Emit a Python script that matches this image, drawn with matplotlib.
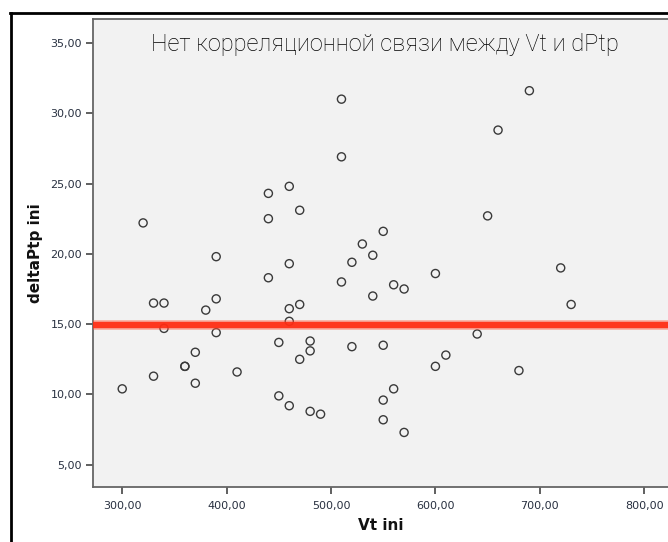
import matplotlib
matplotlib.use("Agg")
import matplotlib.pyplot as plt
from matplotlib.lines import Line2D
from matplotlib.ticker import FuncFormatter

# данные: Vt ini / deltaPtp ini
vt = [300, 320, 330, 330, 340, 340, 360, 360, 370, 370, 380, 390, 390, 390, 410,
      440, 440, 440, 450, 450, 460, 460, 460, 460, 460, 470, 470, 470, 480, 480,
      480, 490, 510, 510, 510, 520, 520, 530, 540, 540, 550, 550, 550, 550, 560,
      560, 570, 570, 600, 600, 610, 640, 650, 660, 680, 690, 720, 730]
dptp = [10.4, 22.2, 16.5, 11.3, 16.5, 14.7, 12.0, 12.0, 13.0, 10.8, 16.0, 19.8, 16.8, 14.4, 11.6,
        24.3, 22.5, 18.3, 13.7, 9.9, 24.8, 19.3, 16.1, 15.2, 9.2, 23.1, 16.4, 12.5, 13.8, 13.1,
        8.8, 8.6, 31.0, 26.9, 18.0, 19.4, 13.4, 20.7, 19.9, 17.0, 21.6, 13.5, 9.6, 8.2, 17.8,
        10.4, 17.5, 7.3, 18.6, 12.0, 12.8, 14.3, 22.7, 28.8, 11.7, 31.6, 19.0, 16.4]
mean_line = 14.95
y_ticks = [5, 10, 15, 20, 25, 30, 35]
x_ticks = [300, 400, 500, 600, 700, 800]
title = "Нет корреляционной связи между Vt и dPtp"

fig = plt.figure(figsize=(6.68, 5.42), dpi=100)
ax = fig.add_axes([93/668, 55/542, 0.8608, 468/542])
ax.set_facecolor("#f2f2f2")
ax.set_xlim(272, 822.8)
ax.set_ylim(3.42, 36.7)

ax.scatter(vt, dptp, s=34, facecolors="none", edgecolors="#3a3a3a", linewidths=1.0, zorder=3)

# красная "шумная" полоса
ax.axhline(mean_line, xmin=0.004, color="#ff5a40", lw=7.0, alpha=0.45, zorder=4)
ax.axhline(mean_line, xmin=0.004, color="#ff2a10", lw=4.6, alpha=0.9, zorder=5)

fmt = FuncFormatter(lambda v, p: f"{v:.2f}".replace(".", ","))
ax.set_xticks(x_ticks)
ax.set_yticks(y_ticks)
ax.xaxis.set_major_formatter(fmt)
ax.yaxis.set_major_formatter(fmt)
ax.tick_params(axis="both", length=5, width=1.2, color="#444444", labelsize=8,
               labelcolor="#283040", pad=3)
ax.tick_params(axis="x", pad=5)

for side in ["left", "bottom", "top"]:
    ax.spines[side].set_color("#666666")
    ax.spines[side].set_linewidth(1.3)
ax.spines["right"].set_visible(False)

ax.set_xlabel("Vt ini", fontsize=11, fontweight="bold", color="#111111", labelpad=5)
ax.set_ylabel("deltaPtp ini", fontsize=11, fontweight="bold", color="#111111", labelpad=5)

fig.text(385/668, 1 - 50.7/542, title, ha="center", va="baseline",
         fontsize=17, family="Roboto", fontweight="light", color="#000000")

# внешняя рамка слайда
fig.add_artist(Line2D([10/668, 1], [1 - 13/542, 1 - 13/542], color="black", lw=2,
                      transform=fig.transFigure))
fig.add_artist(Line2D([11/668, 11/668], [0, 1 - 13/542], color="black", lw=2,
                      transform=fig.transFigure))

fig.savefig("out.png", dpi=100)
